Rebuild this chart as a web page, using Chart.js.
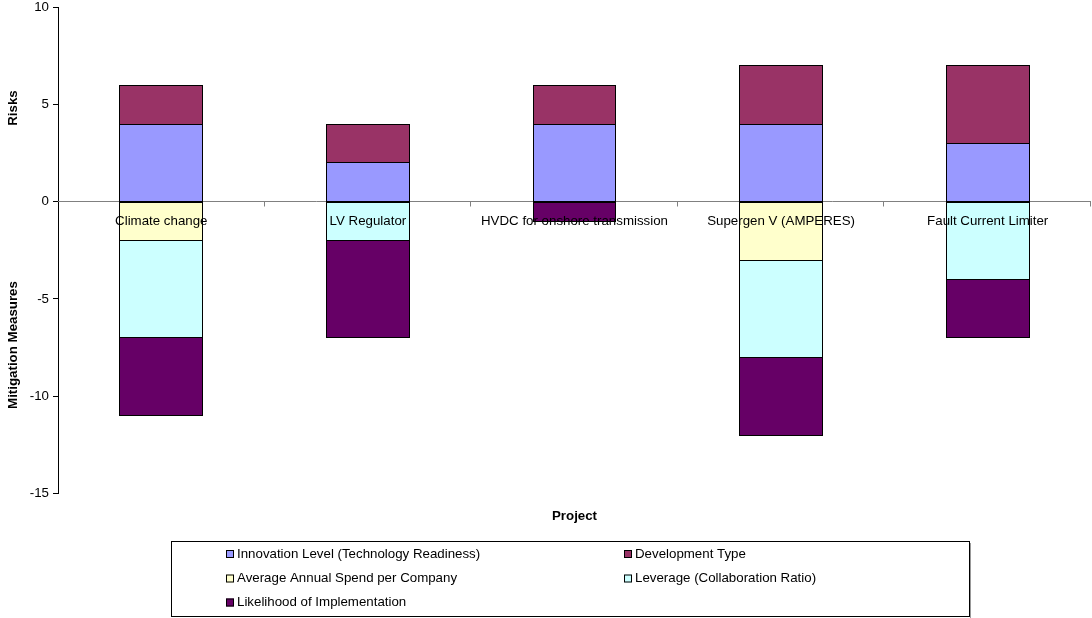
<!DOCTYPE html>
<html>
<head>
<meta charset="utf-8">
<script src="https://cdn.jsdelivr.net/npm/chart.js@4/dist/chart.umd.min.js"></script>
<style>
  html, body { margin: 0; padding: 0; background: #fff; }
  #wrap { width: 1092px; height: 618px; }
</style>
</head>
<body>
<div id="wrap"><canvas id="c" width="1092" height="618"></canvas></div>
<script>
// Projects along the category axis
const projects = ['Climate change', 'LV Regulator', 'HVDC for onshore transmission', 'Supergen V (AMPERES)', 'Fault Current Limiter'];

// Risk scores (plotted above zero)
const innovationLevel = [4, 2, 4, 4, 3];
const developmentType = [2, 2, 2, 3, 4];

// Mitigation scores (plotted below zero); null where a project has no score
const annualSpend = [-2, null, null, -3, null];
const leverage = [-5, -2, null, -5, -4];
const likelihood = [-4, -5, -1, -4, -3];

const seriesNames = [
  'Innovation Level (Technology Readiness)',
  'Development Type',
  'Average Annual Spend per Company',
  'Leverage (Collaboration Ratio)',
  'Likelihood of Implementation'
];
const seriesColors = ['#9999FF', '#993366', '#FFFFCC', '#CCFFFF', '#660066'];

const yMin = -15, yMax = 10, yStep = 5;
const FONT = '"Liberation Sans", Arial, sans-serif';

function makeSet(i, data) {
  return {
    label: seriesNames[i],
    data: data,
    backgroundColor: seriesColors[i],
    borderWidth: 0,
    inflateAmount: 0,
    categoryPercentage: 1.0,
    barPercentage: 0.4
  };
}

// Zero line, crisp bar outlines, axis titles, category labels and the boxed legend
const decorations = {
  id: 'decorations',
  beforeDatasetsDraw(chart) {
    const { ctx, chartArea, scales } = chart;
    const y = scales.y;
    const y0 = Math.floor(y.getPixelForValue(0)) + 0.5;
    const step = (chartArea.right - chartArea.left) / projects.length;
    ctx.save();
    ctx.strokeStyle = '#808080';
    ctx.lineWidth = 1;
    ctx.beginPath();
    ctx.moveTo(chartArea.left, y0);
    ctx.lineTo(chartArea.right, y0);
    for (let i = 1; i <= projects.length; i++) {
      const bx = Math.round(chartArea.left + step * i) - 0.5;
      ctx.moveTo(bx, y0);
      ctx.lineTo(bx, y0 + 5);
    }
    ctx.stroke();
    ctx.restore();
  },
  afterDatasetsDraw(chart) {
    const { ctx, scales } = chart;
    const x = scales.x, y = scales.y;
    ctx.save();
    ctx.strokeStyle = '#000';
    ctx.lineWidth = 1;
    chart.data.datasets.forEach((ds, di) => {
      const meta = chart.getDatasetMeta(di);
      meta.data.forEach((bar, i) => {
        if (ds.data[i] === null || ds.data[i] === 0) return;
        const p = bar.getProps(['x', 'y', 'base', 'width'], true);
        // outline sits on the pixel that holds each fractional edge
        const l = Math.floor(p.x - p.width / 2) + 0.5;
        const r = Math.floor(p.x + p.width / 2) + 0.5;
        const t = Math.floor(Math.min(p.y, p.base)) + 0.5;
        const b = Math.floor(Math.max(p.y, p.base)) + 0.5;
        ctx.strokeRect(l, t, r - l, b - t);
      });
    });
    ctx.restore();

    const y0 = y.getPixelForValue(0);
    ctx.save();
    ctx.fillStyle = '#000';
    ctx.font = '13.3px ' + FONT;
    ctx.textAlign = 'center';
    ctx.textBaseline = 'middle';
    projects.forEach((p, i) => {
      ctx.fillText(p, x.getPixelForValue(i), y0 + 20);
    });
    ctx.restore();
  },
  afterDraw(chart) {
    const { ctx, chartArea } = chart;
    ctx.save();
    ctx.fillStyle = '#000';
    ctx.font = 'bold 13.3px ' + FONT;
    ctx.textAlign = 'center';
    ctx.textBaseline = 'middle';
    // Axis titles
    ctx.fillText('Project', (chartArea.left + chartArea.right) / 2, 516);
    ctx.save();
    ctx.translate(13, 108);
    ctx.rotate(-Math.PI / 2);
    ctx.fillText('Risks', 0, 0);
    ctx.restore();
    ctx.save();
    ctx.translate(13, 345);
    ctx.rotate(-Math.PI / 2);
    ctx.fillText('Mitigation Measures', 0, 0);
    ctx.restore();

    // Legend frame with a light drop shadow
    ctx.strokeStyle = '#999';
    ctx.lineWidth = 1;
    ctx.beginPath();
    ctx.moveTo(970.5, 543);
    ctx.lineTo(970.5, 618);
    ctx.stroke();
    ctx.strokeStyle = '#000';
    ctx.strokeRect(171.5, 541.5, 798, 75);

    // Legend entries in two columns
    const cols = [226, 624];
    const rows = [554, 578.5, 602.5];
    ctx.font = '13.3px ' + FONT;
    ctx.textAlign = 'left';
    seriesNames.forEach((name, i) => {
      const cx = cols[i % 2];
      const cy = rows[Math.floor(i / 2)];
      ctx.fillStyle = seriesColors[i];
      ctx.fillRect(cx, cy - 4, 8, 8);
      ctx.strokeStyle = '#000';
      ctx.strokeRect(cx + 0.5, cy - 3.5, 7, 7);
      ctx.fillStyle = '#000';
      ctx.fillText(name, cx + 11, cy);
    });
    ctx.restore();
  }
};

new Chart(document.getElementById('c'), {
  type: 'bar',
  data: {
    labels: projects,
    datasets: [
      makeSet(0, innovationLevel),
      makeSet(1, developmentType),
      makeSet(2, annualSpend),
      makeSet(3, leverage),
      makeSet(4, likelihood)
    ]
  },
  options: {
    responsive: false,
    animation: false,
    devicePixelRatio: 1,
    layout: { padding: { top: 7.5, right: 1, bottom: 124.7, left: 0 } },
    plugins: {
      legend: { display: false },
      tooltip: { enabled: false }
    },
    scales: {
      x: {
        stacked: true,
        display: false
      },
      y: {
        stacked: true,
        min: yMin,
        max: yMax,
        afterFit(scale) {
          scale.width = 58;
          scale.paddingTop = 0;
          scale.paddingBottom = 0;
        },
        ticks: {
          stepSize: yStep,
          color: '#000',
          padding: 4,
          font: { family: FONT, size: 13.3 }
        },
        grid: {
          drawOnChartArea: false,
          drawTicks: true,
          tickLength: 5,
          tickColor: '#000'
        },
        border: { display: true, color: '#000', width: 1 }
      }
    }
  },
  plugins: [decorations]
});
</script>
</body>
</html>
